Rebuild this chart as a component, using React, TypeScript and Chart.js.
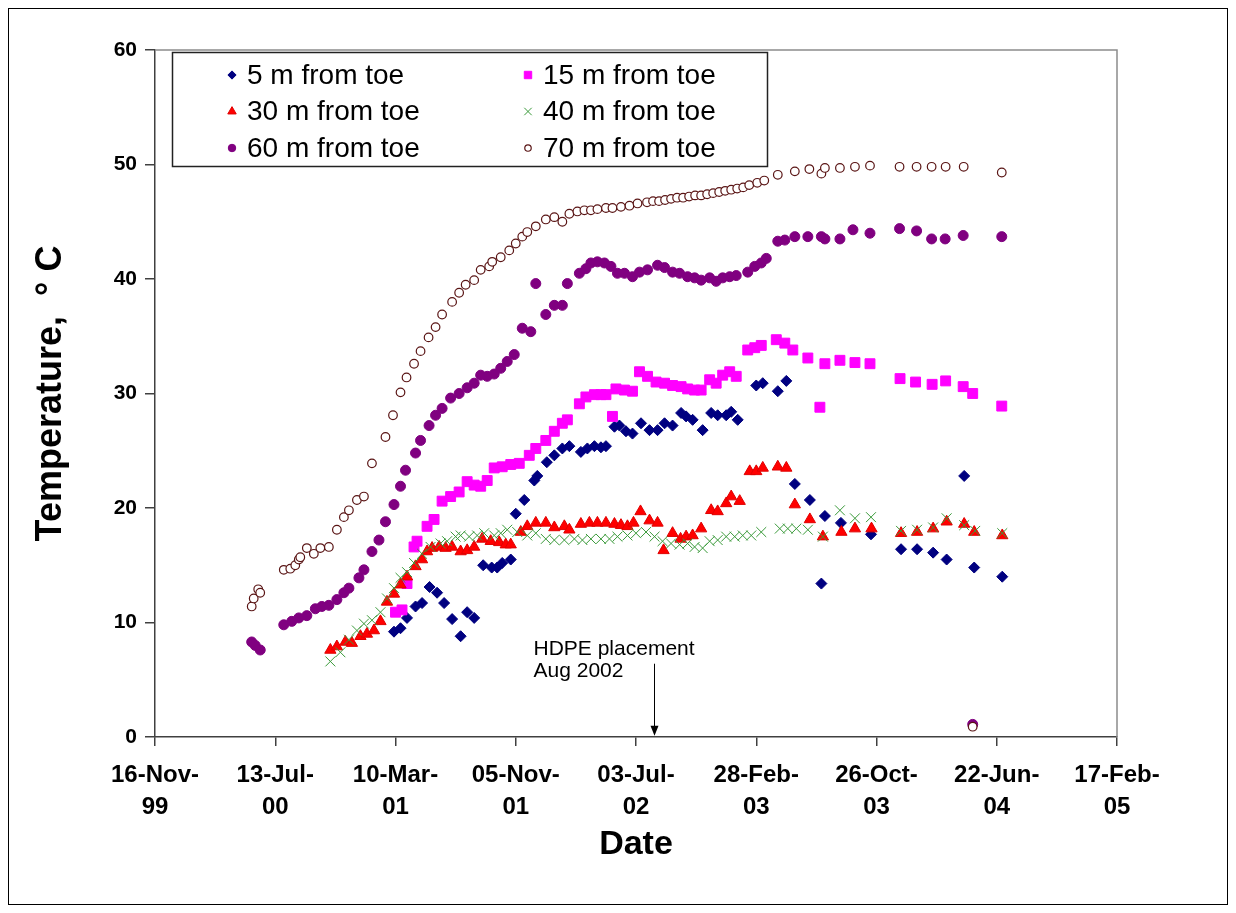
import React, { useEffect, useRef } from 'react';
import { Chart, registerables } from 'chart.js';
import { drawPoint } from 'chart.js/helpers';

Chart.register(...registerables);

// x values: days since 16-Nov-1999
const X_TICK_LABELS = [
  ['16-Nov-', '99'], ['13-Jul-', '00'], ['10-Mar-', '01'], ['05-Nov-', '01'], ['03-Jul-', '02'],
  ['28-Feb-', '03'], ['26-Oct-', '03'], ['22-Jun-', '04'], ['17-Feb-', '05'],
];
const X_MAX_DAYS = 1920;
const X_STEP_DAYS = 240;
const Y_MAX = 60;
const Y_STEP = 10;

const SERIES_NAMES = ['5 m from toe', '15 m from toe', '30 m from toe', '40 m from toe', '60 m from toe', '70 m from toe'];

const DAYS_5M = [477, 490, 503, 520, 533, 548, 563, 577, 593, 610, 623, 637, 655, 672, 683, 693, 710, 720, 737, 757, 763, 782, 797, 813, 827, 850, 863, 877, 890, 900, 917, 927, 940, 953, 970, 987, 1003, 1017, 1033, 1050, 1060, 1073, 1093, 1110, 1123, 1140, 1150, 1163, 1200, 1213, 1243, 1260, 1277, 1307, 1330, 1337, 1369, 1429, 1489, 1521, 1553, 1580, 1615, 1635, 1691];
const TEMP_5M = [9.2, 9.5, 10.4, 11.4, 11.7, 13.1, 12.6, 11.7, 10.3, 8.8, 10.9, 10.4, 15.0, 14.8, 14.8, 15.2, 15.5, 19.5, 20.7, 22.4, 22.8, 24.0, 24.6, 25.2, 25.4, 24.9, 25.2, 25.4, 25.3, 25.4, 27.1, 27.2, 26.7, 26.5, 27.4, 26.8, 26.8, 27.4, 27.2, 28.3, 28.0, 27.7, 26.8, 28.3, 28.1, 28.1, 28.4, 27.7, 30.7, 30.9, 30.2, 31.1, 22.1, 20.7, 13.4, 19.3, 18.7, 17.7, 16.4, 16.4, 16.1, 15.5, 22.8, 14.8, 14.0];

const DAYS_15M = [480, 493, 503, 517, 523, 543, 557, 573, 590, 607, 623, 637, 650, 663, 677, 693, 710, 727, 747, 760, 780, 797, 813, 823, 847, 860, 877, 890, 900, 913, 920, 937, 953, 967, 983, 1000, 1017, 1033, 1050, 1063, 1077, 1090, 1107, 1120, 1133, 1147, 1160, 1183, 1197, 1210, 1240, 1257, 1273, 1303, 1327, 1337, 1367, 1397, 1427, 1487, 1518, 1551, 1578, 1613, 1632, 1690];
const TEMP_15M = [10.9, 11.1, 13.4, 16.6, 17.1, 18.4, 19.0, 20.6, 21.0, 21.4, 22.3, 22.0, 21.9, 22.4, 23.5, 23.6, 23.8, 23.9, 24.6, 25.2, 25.9, 26.7, 27.4, 27.7, 29.1, 29.7, 29.9, 29.9, 29.9, 28.0, 30.4, 30.3, 30.2, 31.9, 31.5, 31.0, 30.9, 30.7, 30.6, 30.4, 30.3, 30.3, 31.2, 30.9, 31.6, 31.9, 31.5, 33.8, 34.0, 34.2, 34.7, 34.4, 33.8, 33.1, 28.8, 32.6, 32.9, 32.7, 32.6, 31.3, 31.0, 30.8, 31.1, 30.6, 30.0, 28.9];

const DAYS_30M = [350, 363, 380, 393, 410, 423, 437, 450, 463, 477, 490, 503, 520, 533, 543, 553, 567, 580, 593, 610, 623, 637, 653, 670, 687, 700, 710, 730, 743, 760, 780, 797, 817, 827, 850, 867, 883, 900, 917, 930, 943, 955, 969, 987, 1003, 1015, 1033, 1049, 1060, 1073, 1090, 1110, 1123, 1140, 1150, 1167, 1187, 1200, 1213, 1243, 1260, 1277, 1307, 1333, 1370, 1397, 1430, 1489, 1521, 1553, 1580, 1615, 1635, 1691];
const TEMP_30M = [7.6, 7.9, 8.3, 8.2, 8.8, 9.0, 9.3, 10.1, 11.8, 12.5, 13.3, 14.0, 14.9, 15.5, 16.2, 16.5, 16.6, 16.5, 16.6, 16.2, 16.3, 16.6, 17.3, 17.1, 17.0, 16.8, 16.8, 17.9, 18.4, 18.7, 18.7, 18.3, 18.4, 18.1, 18.6, 18.7, 18.7, 18.7, 18.6, 18.5, 18.4, 18.7, 19.7, 18.9, 18.7, 16.3, 17.8, 17.3, 17.5, 17.6, 18.2, 19.8, 19.7, 20.4, 21.0, 20.6, 23.2, 23.2, 23.5, 23.6, 23.5, 20.3, 19.0, 17.5, 17.9, 18.2, 18.2, 17.8, 17.9, 18.2, 18.8, 18.6, 17.9, 17.6];

const DAYS_40M = [350, 370, 387, 403, 417, 433, 450, 463, 477, 490, 503, 517, 533, 550, 570, 583, 600, 610, 627, 643, 657, 677, 690, 703, 723, 743, 760, 780, 797, 817, 837, 853, 870, 890, 907, 923, 943, 960, 980, 997, 1013, 1030, 1047, 1063, 1077, 1093, 1107, 1123, 1140, 1157, 1173, 1190, 1210, 1247, 1263, 1280, 1303, 1333, 1367, 1397, 1429, 1489, 1521, 1553, 1580, 1615, 1637, 1691];
const TEMP_40M = [6.6, 7.4, 8.5, 9.3, 9.9, 10.2, 10.9, 12.1, 13.0, 13.9, 14.4, 15.2, 16.0, 16.6, 16.9, 17.1, 17.5, 17.6, 17.5, 17.6, 17.8, 17.6, 17.8, 18.1, 17.9, 17.6, 17.8, 17.3, 17.2, 17.2, 17.3, 17.2, 17.3, 17.3, 17.3, 17.5, 17.6, 17.8, 17.9, 17.5, 17.1, 16.9, 16.8, 16.9, 16.6, 16.5, 17.1, 17.2, 17.5, 17.5, 17.6, 17.6, 17.9, 18.2, 18.2, 18.2, 18.1, 17.5, 19.8, 19.1, 19.2, 18.0, 18.1, 18.3, 19.1, 18.5, 18.0, 17.8];

const DAYS_60M = [193, 200, 210, 257, 273, 287, 303, 320, 333, 347, 363, 377, 387, 407, 417, 433, 447, 460, 477, 490, 500, 520, 530, 547, 560, 573, 590, 607, 623, 637, 650, 663, 677, 690, 703, 717, 733, 750, 760, 780, 797, 813, 823, 847, 860, 870, 883, 897, 910, 923, 937, 953, 967, 983, 1003, 1017, 1033, 1047, 1063, 1077, 1090, 1107, 1120, 1133, 1147, 1160, 1183, 1197, 1210, 1220, 1243, 1257, 1277, 1303, 1330, 1337, 1367, 1393, 1427, 1486, 1520, 1550, 1577, 1613, 1632, 1690];
const TEMP_60M = [8.3, 8.0, 7.6, 9.8, 10.1, 10.4, 10.6, 11.2, 11.4, 11.5, 12.0, 12.6, 13.0, 13.9, 14.6, 16.2, 17.2, 18.8, 20.3, 21.9, 23.3, 24.8, 25.9, 27.2, 28.1, 28.7, 29.6, 30.0, 30.5, 30.9, 31.6, 31.5, 31.7, 32.2, 32.8, 33.4, 35.7, 35.4, 39.6, 36.9, 37.7, 37.7, 39.6, 40.5, 40.9, 41.4, 41.5, 41.4, 41.1, 40.5, 40.5, 40.2, 40.6, 40.8, 41.2, 41.0, 40.6, 40.5, 40.2, 40.1, 39.9, 40.1, 39.8, 40.1, 40.2, 40.3, 40.6, 41.1, 41.4, 41.8, 43.3, 43.4, 43.7, 43.7, 43.7, 43.5, 43.5, 44.3, 44.0, 44.4, 44.2, 43.5, 43.5, 43.8, 1.1, 43.7];

const DAYS_70M = [193, 197, 206, 210, 257, 270, 280, 287, 290, 303, 317, 330, 347, 363, 377, 387, 403, 417, 433, 460, 475, 490, 502, 517, 530, 546, 560, 573, 593, 607, 620, 637, 650, 667, 673, 690, 707, 720, 733, 743, 760, 780, 797, 813, 827, 843, 857, 870, 883, 900, 913, 930, 947, 963, 982, 994, 1006, 1018, 1030, 1042, 1054, 1066, 1078, 1090, 1102, 1114, 1126, 1138, 1150, 1162, 1174, 1186, 1202, 1216, 1243, 1277, 1306, 1330, 1337, 1367, 1397, 1427, 1486, 1520, 1550, 1578, 1614, 1632, 1690];
const TEMP_70M = [11.4, 12.1, 12.9, 12.6, 14.6, 14.7, 15.0, 15.5, 15.7, 16.5, 16.0, 16.5, 16.6, 18.1, 19.2, 19.8, 20.7, 21.0, 23.9, 26.2, 28.1, 30.1, 31.4, 32.6, 33.7, 34.9, 35.8, 36.9, 38.0, 38.8, 39.5, 39.9, 40.8, 41.1, 41.5, 41.9, 42.5, 43.1, 43.7, 44.1, 44.6, 45.2, 45.4, 45.0, 45.7, 45.9, 46.0, 46.0, 46.1, 46.2, 46.2, 46.3, 46.4, 46.6, 46.7, 46.8, 46.8, 46.9, 47.0, 47.1, 47.1, 47.2, 47.3, 47.3, 47.4, 47.5, 47.6, 47.7, 47.8, 47.9, 48.0, 48.2, 48.4, 48.6, 49.1, 49.4, 49.6, 49.2, 49.7, 49.7, 49.8, 49.9, 49.8, 49.8, 49.8, 49.8, 49.8, 0.9, 49.3];

// HDPE placement annotation (Aug 2002)
const HDPE_DAY = 996;
const HDPE_ARROW_TOP = 6.4;
const HDPE_ARROW_BOTTOM = 0.1;
const HDPE_TEXT = ['HDPE placement', 'Aug 2002'];

const FONT = "'Liberation Sans', Arial, sans-serif";

const STYLES = [
  { pointStyle: 'rectRot', radius: 5.5, bg: '#000080', border: '#000080', bw: 1 },
  { pointStyle: 'rect', radius: 7, bg: '#FF00FF', border: '#FF00FF', bw: 1 },
  { pointStyle: 'triangle', radius: 6.5, bg: '#FF0000', border: '#E00000', bw: 1 },
  { pointStyle: 'crossRot', radius: 7, bg: '#3A9A3A', border: '#3A9A3A', bw: 1 },
  { pointStyle: 'circle', radius: 5, bg: '#800080', border: '#800080', bw: 1 },
  { pointStyle: 'circle', radius: 4.3, bg: '#FFFFFF', border: '#5A1515', bw: 1.2 },
];

function pairs(xs: number[], ys: number[]) {
  return xs.map((x, i) => ({ x, y: ys[i] }));
}

const DATA = [
  pairs(DAYS_5M, TEMP_5M),
  pairs(DAYS_15M, TEMP_15M),
  pairs(DAYS_30M, TEMP_30M),
  pairs(DAYS_40M, TEMP_40M),
  pairs(DAYS_60M, TEMP_60M),
  pairs(DAYS_70M, TEMP_70M),
];

const decorPlugin = {
  id: 'decor',
  beforeDraw(chart: any) {
    const ctx = chart.ctx;
    ctx.save();
    ctx.fillStyle = '#FFFFFF';
    ctx.fillRect(0, 0, chart.width, chart.height);
    ctx.restore();
  },
  afterDatasetsDraw(chart: any) {
    const ctx = chart.ctx;
    const { top, right, left, bottom } = chart.chartArea;
    const xs = chart.scales.x;
    const ys = chart.scales.y;
    ctx.save();
    // plot-area frame (top and right)
    ctx.strokeStyle = '#8C8C8C';
    ctx.lineWidth = 1.5;
    ctx.beginPath();
    ctx.moveTo(left, top);
    ctx.lineTo(right, top);
    ctx.lineTo(right, bottom);
    ctx.stroke();

    // legend
    const lx = left + 17, ly = top + 2, lw = 595, lh = 114;
    ctx.fillStyle = '#FFFFFF';
    ctx.fillRect(lx, ly, lw, lh);
    ctx.strokeStyle = '#222222';
    ctx.lineWidth = 1.5;
    ctx.strokeRect(lx + 0.5, ly + 0.5, lw, lh);
    ctx.font = `28px ${FONT}`;
    ctx.textBaseline = 'middle';
    ctx.textAlign = 'left';
    for (let i = 0; i < SERIES_NAMES.length; i++) {
      const col = i % 2;
      const row = Math.floor(i / 2);
      const mx = lx + (col === 0 ? 60 : 356);
      const my = ly + 23 + row * 36.5;
      const s = STYLES[i];
      ctx.fillStyle = s.bg;
      ctx.strokeStyle = s.border;
      ctx.lineWidth = s.bw;
      drawPoint(ctx, { pointStyle: s.pointStyle, radius: s.radius * 0.75, borderWidth: s.bw, rotation: 0 } as any, mx, my);
      ctx.fillStyle = '#000000';
      ctx.fillText(SERIES_NAMES[i], mx + 15, my + 1);
    }

    // HDPE annotation
    const ax = Math.round(xs.getPixelForValue(HDPE_DAY)) + 0.5;
    const ay0 = ys.getPixelForValue(HDPE_ARROW_TOP);
    const ay1 = ys.getPixelForValue(HDPE_ARROW_BOTTOM);
    ctx.strokeStyle = '#000000';
    ctx.fillStyle = '#000000';
    ctx.lineWidth = 1;
    ctx.beginPath();
    ctx.moveTo(ax, ay0);
    ctx.lineTo(ax, ay1 - 9);
    ctx.stroke();
    ctx.beginPath();
    ctx.moveTo(ax - 4, ay1 - 10);
    ctx.lineTo(ax + 4, ay1 - 10);
    ctx.lineTo(ax, ay1);
    ctx.closePath();
    ctx.fill();
    ctx.font = `21px ${FONT}`;
    ctx.textBaseline = 'middle';
    ctx.fillText(HDPE_TEXT[0], ax - 121, ay0 - 15);
    ctx.fillText(HDPE_TEXT[1], ax - 121, ay0 + 7);
    ctx.restore();
  },
  afterDraw(chart: any) {
    const ctx = chart.ctx;
    ctx.save();
    ctx.strokeStyle = '#000000';
    ctx.lineWidth = 1;
    ctx.strokeRect(0.5, 0.5, chart.width - 1, chart.height - 1);
    ctx.restore();
  },
};

export default function App() {
  const ref = useRef<HTMLCanvasElement | null>(null);
  useEffect(() => {
    if (!ref.current) return;
    const chart = new Chart(ref.current, {
      type: 'scatter',
      data: {
        datasets: DATA.map((d, i) => ({
          label: SERIES_NAMES[i],
          data: d,
          showLine: false,
          pointStyle: STYLES[i].pointStyle as any,
          pointRadius: STYLES[i].radius,
          pointBackgroundColor: STYLES[i].bg,
          pointBorderColor: STYLES[i].border,
          pointBorderWidth: STYLES[i].bw,
          order: 5 - i,
        })),
      },
      options: {
        responsive: false,
        animation: false,
        devicePixelRatio: 1,
        layout: { padding: { top: 42, right: 111, left: 0, bottom: 0 } },
        plugins: { legend: { display: false }, tooltip: { enabled: false } },
        scales: {
          x: {
            type: 'linear',
            min: 0,
            max: X_MAX_DAYS,
            afterFit: (s: any) => { s.height = 168; },
            border: { display: true, color: '#404040', width: 1.5 },
            grid: { display: true, drawOnChartArea: false, drawTicks: true, tickLength: 9, color: '#404040', lineWidth: 1.5 },
            ticks: {
              stepSize: X_STEP_DAYS,
              autoSkip: false,
              maxRotation: 0,
              padding: 13,
              color: '#000000',
              font: { family: FONT, size: 24, weight: 'bold', lineHeight: 1.35 },
              callback: (_v: any, i: number) => X_TICK_LABELS[i],
            },
            title: {
              display: true,
              text: 'Date',
              color: '#000000',
              font: { family: FONT, size: 34, weight: 'bold', lineHeight: 1.2 },
              padding: { top: 0, bottom: 40 },
            },
          },
          y: {
            type: 'linear',
            min: 0,
            max: Y_MAX,
            afterFit: (s: any) => { s.width = 147; },
            border: { display: true, color: '#404040', width: 1.5 },
            grid: { display: true, drawOnChartArea: false, drawTicks: true, tickLength: 10, color: '#404040', lineWidth: 1.5 },
            ticks: {
              stepSize: Y_STEP,
              padding: 8,
              color: '#000000',
              font: { family: FONT, size: 21, weight: 'bold' },
            },
            title: {
              display: true,
              text: 'Temperature,  \u00B0 C',
              color: '#000000',
              font: { family: FONT, size: 36, weight: 'bold', lineHeight: 1.2 },
              padding: { top: 21, bottom: 0 },
            },
          },
        },
      },
      plugins: [decorPlugin],
    });
    return () => chart.destroy();
  }, []);
  return (
    <div style={{ width: 1220, height: 897 }}>
      <canvas ref={ref} width={1220} height={897} style={{ display: 'block', width: 1220, height: 897 }} />
    </div>
  );
}
